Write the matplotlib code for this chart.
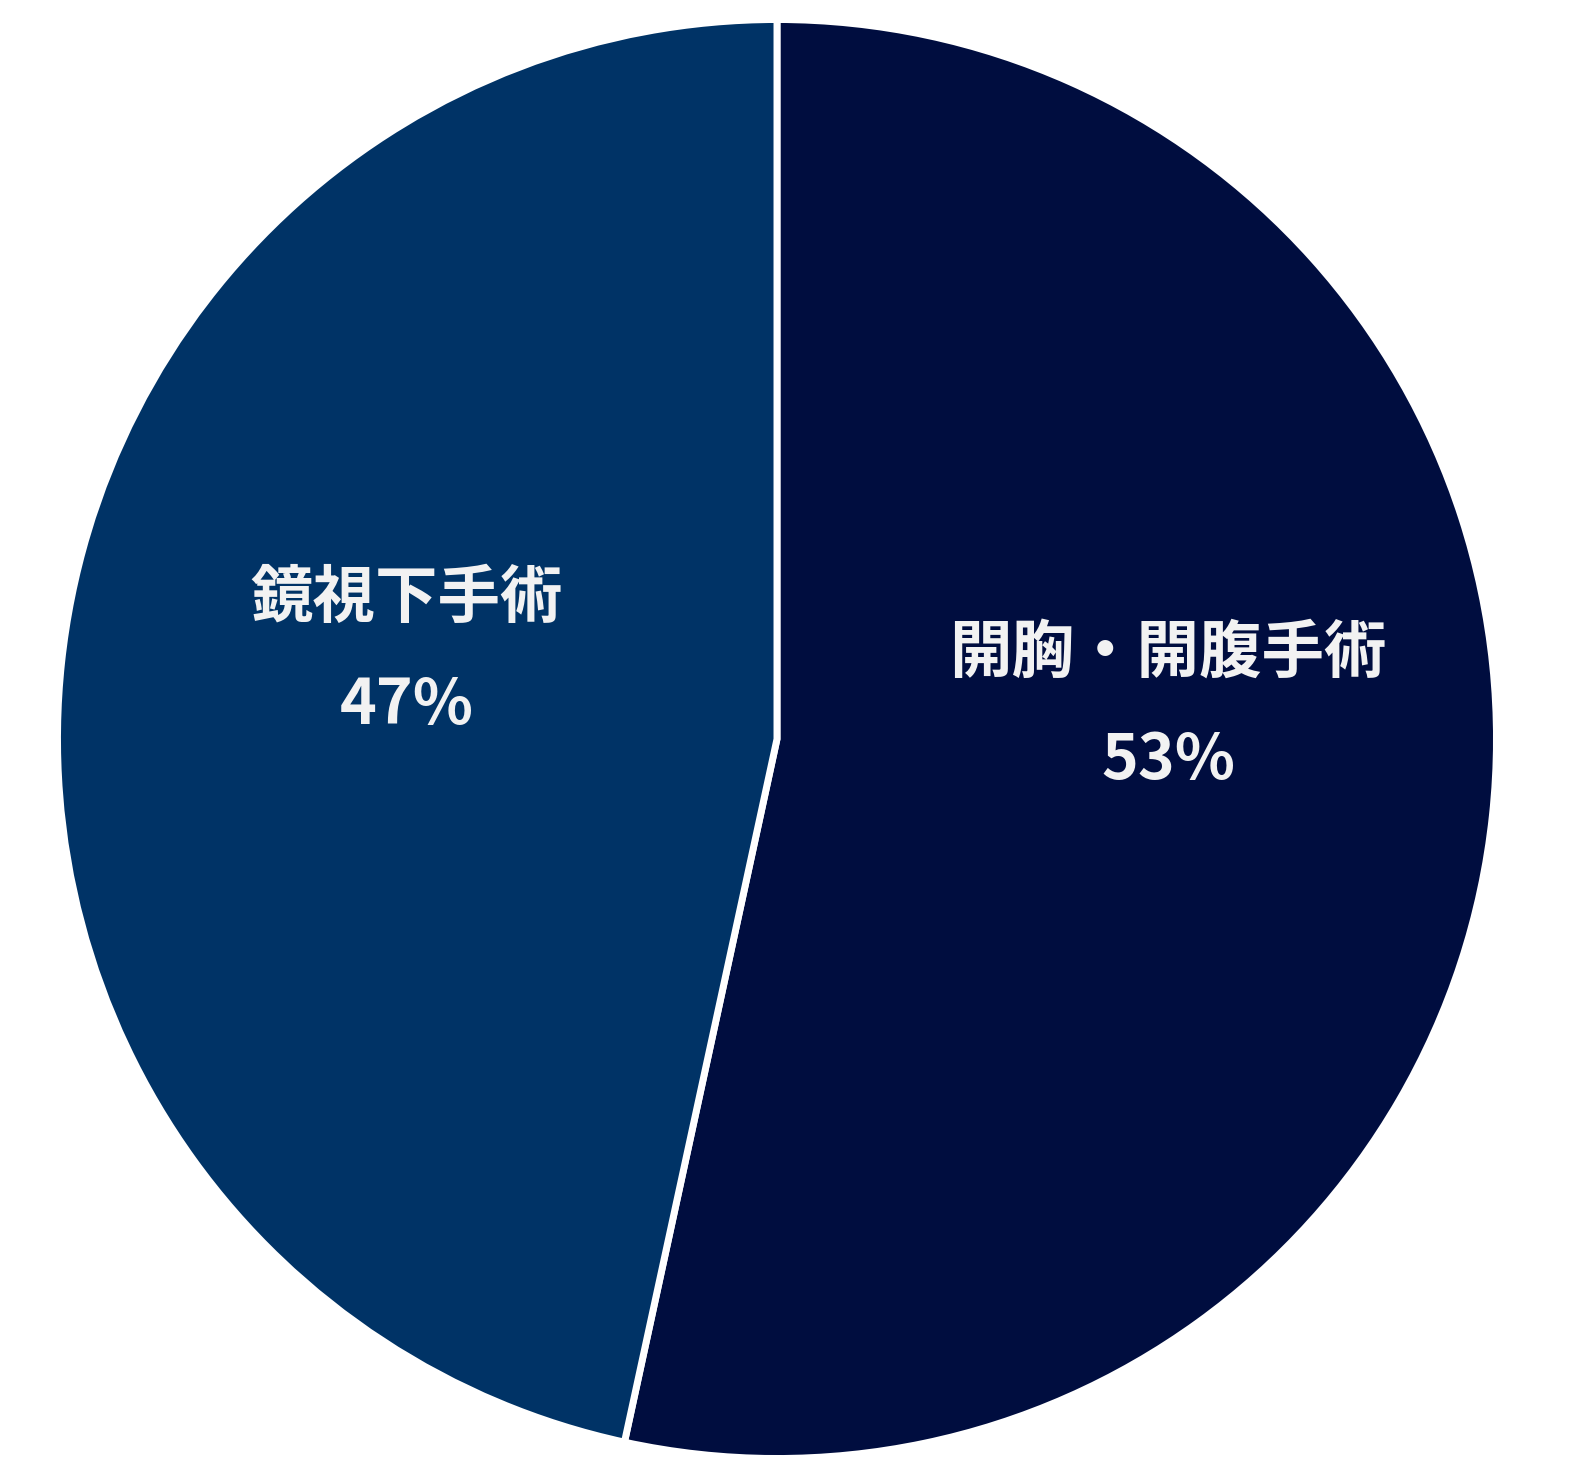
import numpy as np
import matplotlib.pyplot as plt

plt.rcParams['font.family'] = ['Noto Sans CJK JP', 'DejaVu Sans']

# data
categories = ["開胸・開腹手術", "鏡視下手術"]
shares = [53.4, 46.6]
colors = ["#000d3f", "#003366"]

fig = plt.figure(figsize=(15.73, 14.73), dpi=100)
ax = fig.add_axes([0.03655, 0.00984, 0.91481, 0.97692])

wedges, _ = ax.pie(
    shares,
    colors=colors,
    startangle=90,
    counterclock=False,
    radius=1.0,
    wedgeprops=dict(edgecolor="white", linewidth=5),
)
ax.set_xlim(-1, 1)
ax.set_ylim(-1, 1)
ax.set_aspect("equal")
ax.axis("off")

# labels placed around each wedge's mid angle
for w, name, v in zip(wedges, categories, shares):
    mid = np.deg2rad((w.theta1 + w.theta2) / 2)
    x = 0.532 * np.cos(mid) + 0.0146
    y = 0.359 * np.sin(mid) + 0.083
    ax.text(x, y + 0.0744, name, ha="center", va="center",
            fontsize=45, fontweight="bold", color="#f2f2f2")
    ax.text(x, y - 0.0744, f"{v:.0f}%", ha="center", va="center",
            fontsize=45, fontweight="bold", color="#f2f2f2")

fig.savefig("out.png", dpi=100, facecolor="white")
